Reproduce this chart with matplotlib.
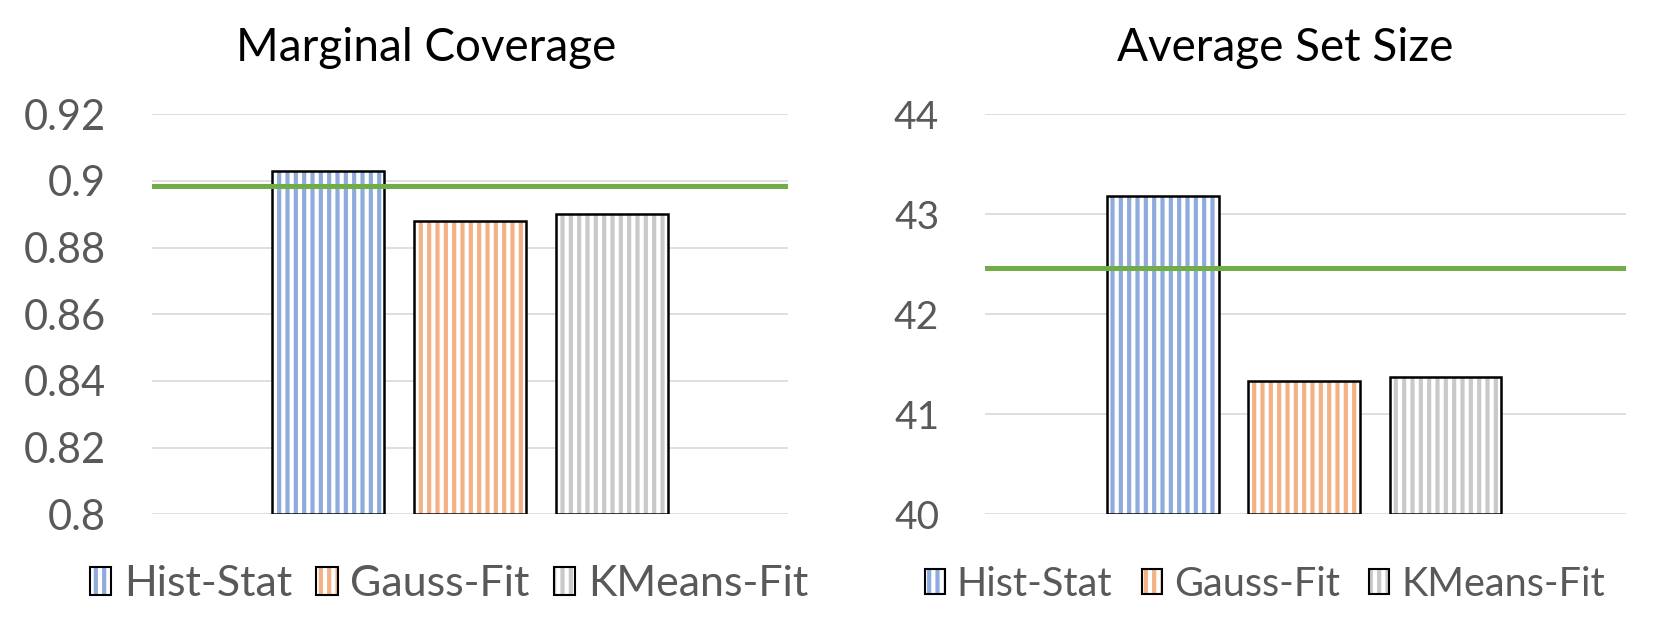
import matplotlib
matplotlib.use("Agg")
import matplotlib.pyplot as plt
from matplotlib.patches import Patch

methods = ["Hist-Stat", "Gauss-Fit", "KMeans-Fit"]
coverage = [0.903, 0.888, 0.890]
coverage_target = 0.8985
set_size = [43.18, 41.33, 41.37]
set_size_ref = 42.46

cov_ticks = [0.8, 0.82, 0.84, 0.86, 0.88, 0.9, 0.92]
cov_ticklabels = ["0.8", "0.82", "0.84", "0.86", "0.88", "0.9", "0.92"]
size_ticks = [40, 41, 42, 43, 44]
size_ticklabels = ["40", "41", "42", "43", "44"]

colors = ["#8faadc", "#f4b183", "#c9c9c9"]
green = "#70ad47"
textgray = "#595959"

plt.rcParams["font.family"] = ["Lato", "DejaVu Sans"]
plt.rcParams["hatch.linewidth"] = 3.0

fig = plt.figure(figsize=(16.61, 6.24), dpi=100)
ax1 = fig.add_axes([0.0915, 0.176, 0.383, 0.641])
ax2 = fig.add_axes([0.593, 0.176, 0.386, 0.641])


def draw(ax, vals, ylo, yhi, ticks, labels, ref, xlim, lsize):
    x = list(range(len(vals)))
    heights = [v - ylo for v in vals]
    bars = ax.bar(x, heights, bottom=ylo, width=0.79, color="white",
                  edgecolor="none", linewidth=0, zorder=2)
    for b, c in zip(bars, colors):
        b.set_hatch("||")
        b._hatch_color = matplotlib.colors.to_rgba(c)
    ax.bar(x, heights, bottom=ylo, width=0.79, fill=False,
           edgecolor="black", linewidth=1.8, zorder=3)
    ax.axhline(ref, color=green, linewidth=3.6, zorder=4)
    ax.set_ylim(ylo, yhi)
    ax.set_xlim(*xlim)
    ax.set_yticks(ticks)
    ax.set_yticklabels(labels)
    ax.set_xticks([])
    ax.tick_params(axis="y", length=0, pad=33, labelsize=lsize, labelcolor=textgray)
    ax.yaxis.grid(True, color="#d9d9d9", linewidth=1.2, zorder=0)
    ax.set_axisbelow(True)
    for s in ax.spines.values():
        s.set_visible(False)


draw(ax1, coverage, 0.8, 0.92, cov_ticks, cov_ticklabels, coverage_target, (-1.24, 3.24), 30)
draw(ax2, set_size, 40, 44, size_ticks, size_ticklabels, set_size_ref, (-1.26, 3.28), 28)

fig.text(0.2565, 0.923, "Marginal Coverage", ha="center", va="center", fontsize=33, color="black")
fig.text(0.774, 0.923, "Average Set Size", ha="center", va="center", fontsize=33, color="black")


def make_handles():
    hs = []
    for c in colors:
        p1 = Patch(facecolor="white", edgecolor="none", hatch="||")
        p1._hatch_color = matplotlib.colors.to_rgba(c)
        p2 = Patch(fill=False, edgecolor="black", linewidth=1.5)
        hs.append((p1, p2))
    return hs


for cx, fs, cs in ((449 / 1661, 31, 0.55), (1265 / 1661, 28.5, 0.75)):
    leg = fig.legend(make_handles(), methods, loc="center", bbox_to_anchor=(cx, 0.064),
                     ncol=3, frameon=False, fontsize=fs, handlelength=0.5,
                     handleheight=0.6, handletextpad=0.3, columnspacing=cs,
                     labelcolor=textgray)

fig.savefig("out.png", dpi=100)
